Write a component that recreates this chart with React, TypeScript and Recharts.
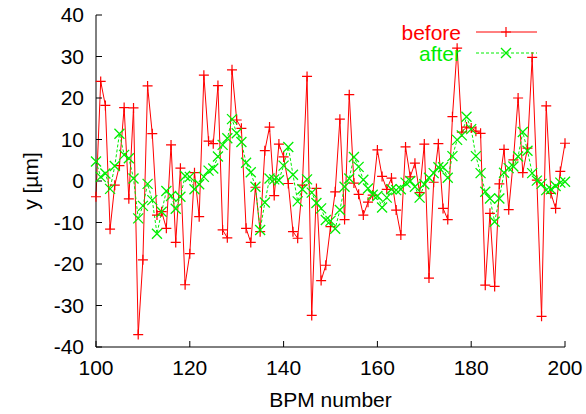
import { LineChart, Line, XAxis, YAxis, Legend } from "recharts";

// BPM index along the beamline
const bpm = [
  100, 101, 102, 103, 104, 105, 106, 107, 108, 109,
  110, 111, 112, 113, 114, 115, 116, 117, 118, 119,
  120, 121, 122, 123, 124, 125, 126, 127, 128, 129,
  130, 131, 132, 133, 134, 135, 136, 137, 138, 139,
  140, 141, 142, 143, 144, 145, 146, 147, 148, 149,
  150, 151, 152, 153, 154, 155, 156, 157, 158, 159,
  160, 161, 162, 163, 164, 165, 166, 167, 168, 169,
  170, 171, 172, 173, 174, 175, 176, 177, 178, 179,
  180, 181, 182, 183, 184, 185, 186, 187, 188, 189,
  190, 191, 192, 193, 194, 195, 196, 197, 198, 199,
  200,
];

// vertical orbit [um] before correction
const before = [
  -3.8, 24.0, 18.2, -11.6, -1.0, 3.7, 17.7, -4.3, 17.6, -37.0,
  -19.0, 22.9, 11.4, -8.2, -7.4, -11.4, 8.7, -14.8, 3.1, -25.0,
  -17.5, 2.0, -8.6, 25.5, 9.6, 9.0, 23.0, -11.8, -13.7, 26.8,
  14.7, 12.7, -11.4, -14.8, -1.5, -12.2, 7.3, 13.0, -3.5, 8.9,
  5.8, -0.6, -12.2, -13.8, -1.0, 25.2, -32.4, -1.8, -24.0, -20.3,
  -11.0, -2.6, 14.9, -9.3, 20.8, -0.5, -3.2, -8.2, -5.1, -3.4,
  7.5, 1.1, -2.0, 0.7, -7.0, -13.0, 8.2, 1.0, 4.3, -2.8,
  8.9, -23.4, -0.3, 9.0, -6.6, -9.3, 15.5, 32.0, 11.8, 13.0,
  12.8, 12.0, 11.5, -25.1, -7.8, -25.4, -0.7, 7.6, -6.9, 5.1,
  20.0, 2.0, 7.9, 29.8, 0.2, -32.6, 18.1, -3.0, -6.6, 2.3,
  9.1,
];

// vertical orbit [um] after correction
const after = [
  4.7, 1.0, 1.8, -1.9, 3.6, 11.4, 6.3, 5.5, 0.6, -9.0,
  -6.0, -0.7, -4.6, -12.7, -7.4, -2.4, -3.6, -6.7, -3.8, 1.2,
  1.0, -2.0, -0.8, 1.0, 2.5, 3.0, 5.9, 8.7, 10.3, 14.9,
  11.5, 9.4, 4.4, 2.1, -1.4, -11.8, -5.2, 0.6, 0.4, 0.2,
  3.7, 8.2, 1.5, -4.9, -2.0, 0.4, -2.8, -5.3, -6.6, -9.4,
  -9.6, -11.5, -7.0, -1.4, 0.6, 5.8, 3.4, 0.3, -1.8, -3.3,
  -3.6, -6.4, -4.0, -2.0, -2.2, -2.0, -0.4, 0.0, -1.4, -4.0,
  -0.8, 0.8, 1.9, 3.3, 3.3, 0.8, 6.0, 9.9, 11.0, 15.5,
  12.5, 6.0, 1.9, -2.6, -4.2, -9.8, -4.2, 2.0, 3.1, 3.5,
  5.9, 11.8, 7.3, 1.9, 0.1, -0.7, -2.2, -2.0, -1.2, -0.4,
  -0.2,
];

const xTicks = [100, 120, 140, 160, 180, 200];
const yTicks = [-40, -30, -20, -10, 0, 10, 20, 30, 40];

const data = bpm.map((b, i) => ({ bpm: b, before: before[i], after: after[i] }));

const RED = "#ff0000";
const GREEN = "#00ee00";
const FONT = "'Liberation Sans', Arial, sans-serif";
const FS = 21;

interface DotProps {
  cx?: number;
  cy?: number;
}

function PlusDot({ cx, cy }: DotProps) {
  if (cx == null || cy == null) return null;
  return (
    <path
      d={`M${cx - 5},${cy}H${cx + 5}M${cx},${cy - 5}V${cy + 5}`}
      stroke={RED}
      strokeWidth={1.2}
      fill="none"
    />
  );
}

function CrossDot({ cx, cy }: DotProps) {
  if (cx == null || cy == null) return null;
  return (
    <path
      d={`M${cx - 5},${cy - 5}L${cx + 5},${cy + 5}M${cx - 5},${cy + 5}L${cx + 5},${cy - 5}`}
      stroke={GREEN}
      strokeWidth={1.3}
      fill="none"
    />
  );
}

function KeyBox() {
  const rows = [
    { name: "before", color: RED, dash: undefined, Mark: PlusDot },
    { name: "after", color: GREEN, dash: "3 2", Mark: CrossDot },
  ];
  return (
    <svg width={170} height={50} style={{ display: "block" }}>
      {rows.map((r, i) => {
        const y = 17 + i * 21;
        return (
          <g key={r.name}>
            <text
              x={81}
              y={y}
              textAnchor="end"
              dominantBaseline="central"
              fill={r.color}
              fontSize={FS}
              fontFamily={FONT}
            >
              {r.name}
            </text>
            <line x1={96} x2={157} y1={y} y2={y} stroke={r.color} strokeWidth={1} strokeDasharray={r.dash} />
            <r.Mark cx={126} cy={y} />
          </g>
        );
      })}
    </svg>
  );
}

function YTitle(props: { viewBox?: { x: number; y: number; width: number; height: number } }) {
  const vb = props.viewBox;
  if (!vb) return null;
  const x = vb.x + 30;
  const y = vb.y + vb.height / 2;
  return (
    <text
      x={x}
      y={y}
      transform={`rotate(-90, ${x}, ${y})`}
      textAnchor="middle"
      dominantBaseline="central"
      fontSize={FS}
      fontFamily={FONT}
      fill="#000"
    >
      y [µm]
    </text>
  );
}

const tickStyle = { fill: "#000", fontSize: FS, fontFamily: FONT };

export default function App() {
  return (
    <div style={{ position: "absolute", left: 0, top: 0, background: "#fff" }}>
      <LineChart
        width={586}
        height={414}
        data={data}
        margin={{ top: 15, right: 21, bottom: 0, left: 0 }}
      >
        <XAxis
          dataKey="bpm"
          type="number"
          domain={[100, 200]}
          ticks={xTicks}
          height={67}
          stroke="#000"
          tickSize={-6}
          tickMargin={19}
          tick={tickStyle}
          label={{
            value: "BPM number",
            position: "insideBottom",
            offset: 7,
            fill: "#000",
            fontSize: FS,
            fontFamily: FONT,
          }}
        />
        <XAxis
          xAxisId="top"
          orientation="top"
          dataKey="bpm"
          type="number"
          domain={[100, 200]}
          ticks={xTicks}
          height={0}
          stroke="#000"
          tickSize={-6}
          tick={false}
        />
        <YAxis
          type="number"
          domain={[-40, 40]}
          ticks={yTicks}
          width={96}
          stroke="#000"
          tickSize={-6}
          tickMargin={18}
          tick={tickStyle}
          label={<YTitle />}
        />
        <YAxis
          yAxisId="right"
          orientation="right"
          type="number"
          domain={[-40, 40]}
          ticks={yTicks}
          width={0}
          stroke="#000"
          tickSize={-6}
          tick={false}
        />
        <Legend
          layout="horizontal"
          verticalAlign="middle"
          align="center"
          content={<KeyBox />}
          wrapperStyle={{ position: "absolute", left: 380, top: 15, width: 170, height: 50 }}
        />
        <Line
          dataKey="before"
          stroke={RED}
          strokeWidth={1}
          dot={<PlusDot />}
          activeDot={false}
          isAnimationActive={false}
        />
        <Line
          dataKey="after"
          stroke={GREEN}
          strokeWidth={1}
          strokeDasharray="3 2"
          dot={<CrossDot />}
          activeDot={false}
          isAnimationActive={false}
        />
      </LineChart>
    </div>
  );
}
